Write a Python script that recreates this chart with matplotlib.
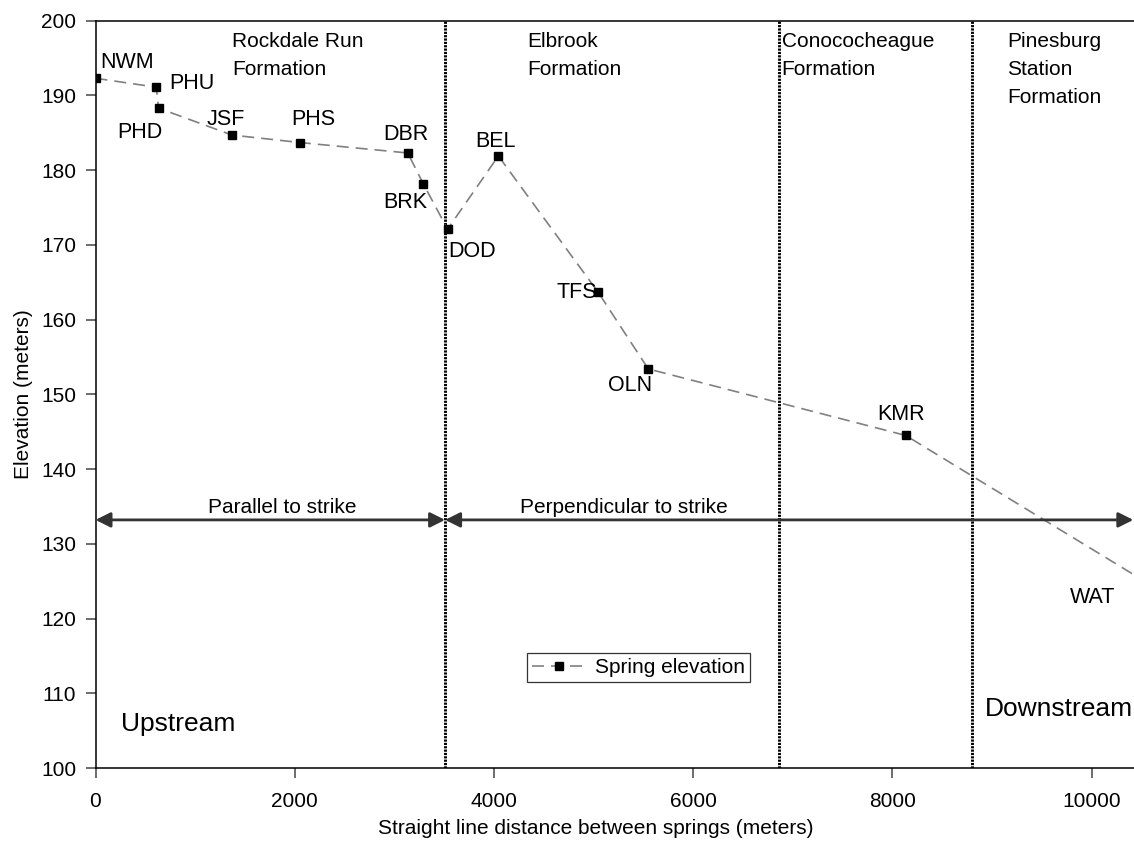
import matplotlib
matplotlib.use("Agg")
import matplotlib.pyplot as plt

plt.rcParams['font.family'] = ['Liberation Sans', 'DejaVu Sans']

# Spring survey: straight-line distance (m) and elevation (m)
springs = ['NWM', 'PHU', 'PHD', 'JSF', 'PHS', 'DBR', 'BRK', 'DOD',
           'BEL', 'TFS', 'OLN', 'KMR', 'WAT']
distance = [0, 610, 633, 1370, 2050, 3135, 3290, 3535,
            4045, 5045, 5550, 8135, 10900]
elevation = [192.3, 191.1, 188.3, 184.7, 183.7, 182.3, 178.2, 172.1,
             181.9, 163.7, 153.4, 144.5, 122.0]

# Formation contacts along the traverse
contacts = [3510, 6860, 8800]
formations = ['Rockdale Run\nFormation', 'Elbrook\nFormation',
              'Conococheague\nFormation', 'Pinesburg\nStation\nFormation']
formation_x = [1370, 4335, 6890, 9155]

# Orientation of the traverse relative to strike
strike_y = 133.2
strike_spans = [(0, 3510), (3510, 10420)]
strike_labels = ['Parallel to strike', 'Perpendicular to strike']
strike_label_x = [1880, 5305]

x_ticks = [0, 2000, 4000, 6000, 8000, 10000]
y_ticks = list(range(100, 201, 10))

# label offsets (pixels) for each spring name
label_offsets = [(32, 16), (36, 4), (-19, -24), (-6, 16), (14, 23),
                 (-2, 18), (-18, -19), (24, -22), (-3, 14), (-21, -1),
                 (-18, -17), (-5, 21), (-89, 6)]

W, H = 1134, 843
fig = plt.figure(figsize=(W / 100, H / 100), dpi=100)
left_px, top_px, bottom_px = 95.5, 20.7, 768.0
xmax = 10500
px_per_m = 0.0996
ax = fig.add_axes([left_px / W, (H - bottom_px) / H,
                   xmax * px_per_m / W, (bottom_px - top_px) / H])

ax.set_xlim(0, xmax)
ax.set_ylim(100, 200)

# Formation boundaries
for cx in contacts:
    ax.axvline(cx, color='black', lw=2.1, linestyle=(0, (0.75, 0.4)), zorder=1)

# Spring elevation profile
ax.plot(distance, elevation, color='#808080', lw=1.2, dashes=(7.2, 4.2),
        marker='s', markersize=6, markerfacecolor='black',
        markeredgecolor='black', label='Spring elevation', zorder=3)

for name, x, y, (dx, dy) in zip(springs, distance, elevation, label_offsets):
    ax.annotate(name, (x, y), xytext=(dx, dy), textcoords='offset pixels',
                ha='center', va='center', fontsize=15.5,
                annotation_clip=False)

# Strike arrows
for (x0, x1) in strike_spans:
    ax.annotate('', xy=(x1, strike_y), xytext=(x0, strike_y),
                arrowprops=dict(arrowstyle='<|-|>,head_length=0.9,head_width=0.45',
                                color='#333333', lw=2, shrinkA=0, shrinkB=0),
                annotation_clip=False)
for txt, tx in zip(strike_labels, strike_label_x):
    ax.text(tx, 134.15, txt, ha='center', va='baseline', fontsize=15)

# Formation names
for txt, fx in zip(formations, formation_x):
    ax.text(fx, 0.9855, txt, transform=ax.get_xaxis_transform(),
            ha='left', va='top', fontsize=15, linespacing=1.6)

# Flow direction
ax.text(120.7 / W, (H - 730.7) / H, 'Upstream', transform=fig.transFigure,
        fontsize=19, ha='left', va='baseline')
ax.text(984.7 / W, (H - 716) / H, 'Downstream', transform=fig.transFigure,
        fontsize=19, ha='left', va='baseline')

ax.set_xticks(x_ticks)
ax.set_yticks(y_ticks)
ax.tick_params(axis='both', direction='out', length=7, width=1.1,
               color='#444444', labelsize=15)
ax.tick_params(axis='x', pad=10)
ax.tick_params(axis='y', pad=7)
for side in ['left', 'bottom', 'top', 'right']:
    ax.spines[side].set_linewidth(1.1)
    ax.spines[side].set_color('black')

ax.set_ylabel('Elevation (meters)', fontsize=15, labelpad=6)
fig.text(596 / W, (H - 829) / H, 'Straight line distance between springs (meters)',
         ha='center', va='center', fontsize=15)

leg = ax.legend(loc='upper left',
                bbox_to_anchor=((527 - left_px) / (xmax * px_per_m),
                                (bottom_px - 653) / (bottom_px - top_px)),
                borderaxespad=0, fancybox=False, frameon=True,
                edgecolor='black', fontsize=15, handlelength=2.6,
                handletextpad=0.4, borderpad=0.25)
leg.get_frame().set_linewidth(0.9)

fig.savefig('out.png', dpi=100)
